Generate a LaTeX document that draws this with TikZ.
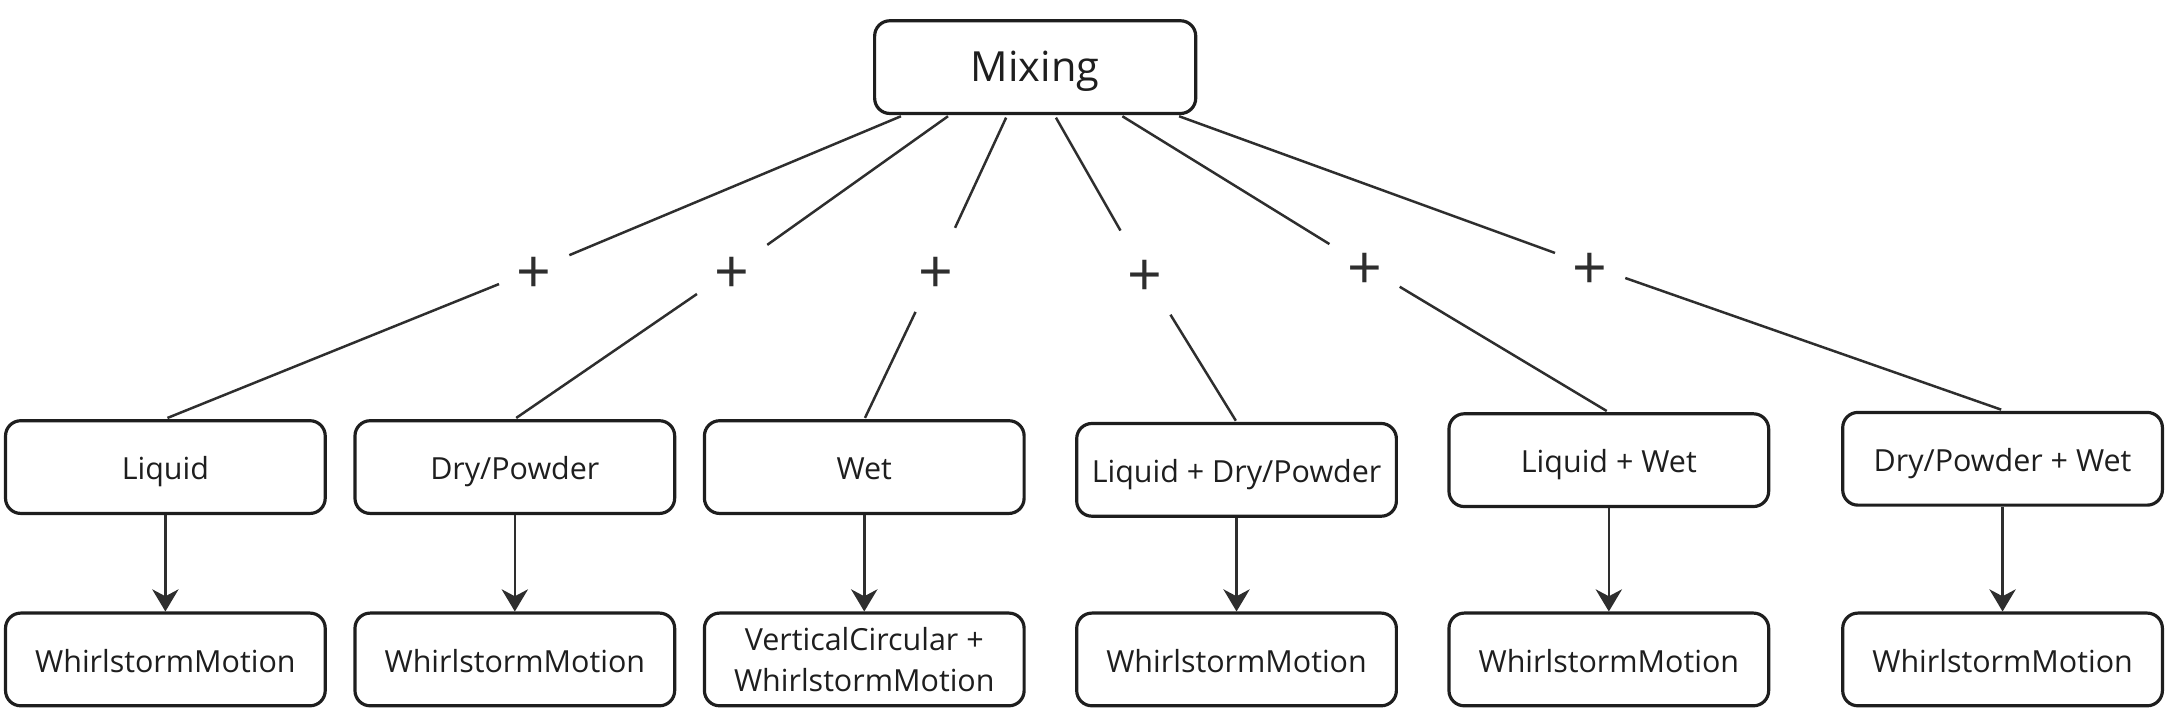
\documentclass[tikz,border=0pt]{standalone}
\usepackage{fontspec}
\setmainfont{Open Sans}
\usetikzlibrary{arrows.meta}
\definecolor{bord}{HTML}{1E1E1E}
\definecolor{ln}{HTML}{2E2E2E}
\begin{document}
\begin{tikzpicture}[x=0.5pt,y=-0.5pt,
  box/.style={draw=bord, line width=1.15pt, rounded corners=5.5pt, minimum width=115.5pt, minimum height=33.5pt, inner sep=0pt, align=center, font=\fontsize{11}{15}\selectfont, text=bord},
  oneline/.style={text height=0.964em+2pt, text depth=0.25em},
  plus/.style={inner sep=0pt, minimum width=25pt, minimum height=30pt, font=\fontsize{22}{22}\selectfont, text=ln},
  conn/.style={draw=ln, line width=0.9pt},
  arr/.style={conn, -{Stealth[length=8pt,width=9.5pt,inset=2.5pt]}}]
\useasboundingbox (0,0) rectangle (1568,519.5);

\node[box, text height=0.964em+3pt, text depth=0.25em, minimum width=116pt, font=\fontsize{15}{17}\selectfont] (mix) at (748,48.5) {Mixing};

\node[box, oneline] (a1) at (119.5,337.5) {Liquid};
\node[box, oneline] (a2) at (372,337.5) {Dry/Powder};
\node[box, oneline] (a3) at (624.5,337.5) {Wet};
\node[box, oneline] (a4) at (893.5,339.5) {Liquid + Dry/Powder};
\node[box, oneline] (a5) at (1162.5,332.5) {Liquid + Wet};
\node[box, oneline] (a6) at (1447,331.5) {Dry/Powder + Wet};

\node[box, oneline] (b1) at (119.5,476.5) {WhirlstormMotion};
\node[box, oneline] (b2) at (372,476.5) {WhirlstormMotion};
\node[box] (b3) at (624.5,476.5) {VerticalCircular +\\WhirlstormMotion};
\node[box, oneline] (b4) at (893.5,476.5) {WhirlstormMotion};
\node[box, oneline] (b5) at (1162.5,476.5) {WhirlstormMotion};
\node[box, oneline] (b6) at (1447,476.5) {WhirlstormMotion};

\node[plus] (p1) at (386,195) {\raisebox{-2pt}[\height][\depth]{+}};
\node[plus] (p2) at (529,195) {\raisebox{-2pt}[\height][\depth]{+}};
\node[plus] (p3) at (676,195) {\raisebox{-2pt}[\height][\depth]{+}};
\node[plus] (p4) at (827,197) {\raisebox{-2pt}[\height][\depth]{+}};
\node[plus] (p5) at (986,192) {\raisebox{-2pt}[\height][\depth]{+}};
\node[plus] (p6) at (1149,192) {\raisebox{-2pt}[\height][\depth]{+}};

\coordinate (m1) at (651,84);
\coordinate (m2) at (685,84);
\coordinate (m3) at (727,85);
\coordinate (m4) at (763,85);
\coordinate (m5) at (811,84);
\coordinate (m6) at (852,84);

\coordinate (t1) at (121,302);
\coordinate (t2) at (373,302);
\coordinate (t3) at (625,302);
\coordinate (t4) at (893,304);
\coordinate (t5) at (1161,297);
\coordinate (t6) at (1446,296);

\foreach \i in {1,...,6}{
  \draw[conn] (m\i) -- (p\i);
  \draw[conn] (p\i) -- (t\i);
  \draw[arr] (a\i.south) -- (b\i.north);
}
\end{tikzpicture}
\end{document}
